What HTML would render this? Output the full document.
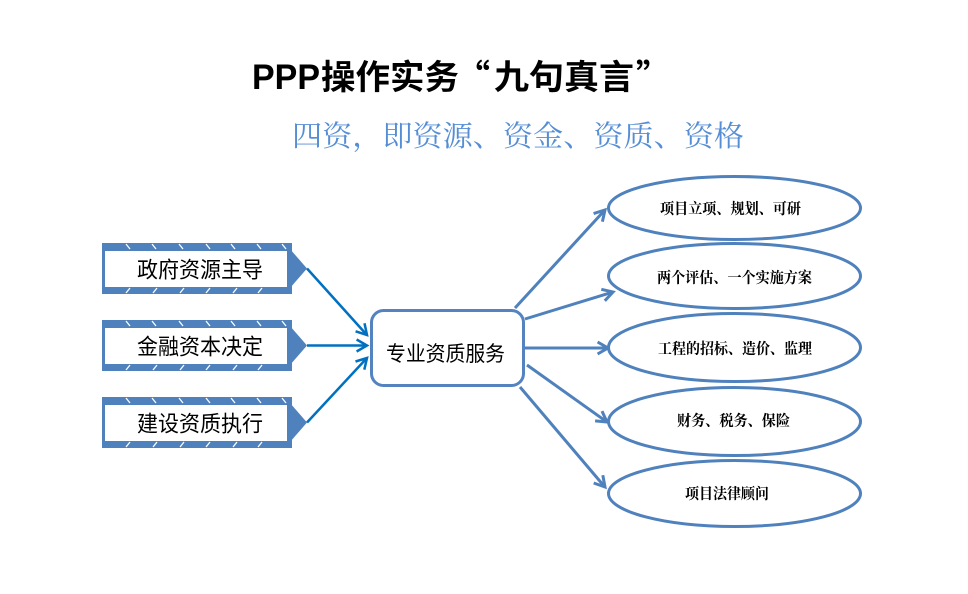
<!DOCTYPE html>
<html>
<head>
<meta charset="utf-8">
<style>
  html, body { margin: 0; padding: 0; background: #ffffff; }
  body { width: 968px; height: 594px; overflow: hidden; }
  svg { display: block; }
</style>
</head>
<body>
<svg width="968" height="594" viewBox="0 0 968 594" xmlns="http://www.w3.org/2000/svg">
  <rect x="0" y="0" width="968" height="594" fill="#ffffff"/>

  <!-- Title -->
  <text x="252" y="89" font-family="'Liberation Sans', sans-serif" font-weight="bold" font-size="35" fill="#000" textLength="68" lengthAdjust="spacingAndGlyphs">PPP</text>
  <text x="321" y="89" font-family="'Noto Sans CJK SC', 'WenQuanYi Zen Hei', sans-serif" font-weight="bold" font-size="34" fill="#000" textLength="138" lengthAdjust="spacingAndGlyphs">操作实务</text>
  <text x="490" y="89" text-anchor="end" font-family="'Noto Sans CJK SC', 'WenQuanYi Zen Hei', sans-serif" font-weight="bold" font-size="34" fill="#000">“</text>
  <text x="494" y="89" font-family="'Noto Sans CJK SC', 'WenQuanYi Zen Hei', sans-serif" font-weight="bold" font-size="34" fill="#000" textLength="140" lengthAdjust="spacingAndGlyphs">九句真言</text>
  <text x="636" y="89" font-family="'Noto Sans CJK SC', 'WenQuanYi Zen Hei', sans-serif" font-weight="bold" font-size="34" fill="#000">”</text>

  <!-- Subtitle -->
  <text x="292" y="146" font-family="'Noto Serif CJK SC', 'Noto Sans CJK SC', serif" font-size="29" fill="#558ed5" textLength="452" lengthAdjust="spacingAndGlyphs">四资，即资源、资金、资质、资格</text>

  <!-- Left boxes -->
  <g id="box1">
    <rect x="102" y="243" width="190" height="51" fill="#4f81bd"/>
    <polygon points="290,249 307,268.5 290,288" fill="#4f81bd"/>
    <rect x="105" y="251" width="182" height="36" fill="#ffffff"/>
    <g stroke="#ffffff" stroke-width="1.3">
      <line x1="126" y1="244" x2="130" y2="249"/><line x1="152" y1="244" x2="156" y2="249"/>
      <line x1="179" y1="244" x2="183" y2="249"/><line x1="206" y1="244" x2="210" y2="249"/>
      <line x1="231" y1="244" x2="235" y2="249"/><line x1="257" y1="244" x2="261" y2="249"/>
      <line x1="282" y1="244" x2="286" y2="249"/>
      <line x1="126" y1="293" x2="130" y2="288"/><line x1="153" y1="293" x2="157" y2="288"/>
      <line x1="180" y1="293" x2="184" y2="288"/><line x1="206" y1="293" x2="210" y2="288"/>
      <line x1="233" y1="293" x2="237" y2="288"/><line x1="258" y1="293" x2="262" y2="288"/>
    </g>
    <text x="137" y="277.5" font-family="'Noto Sans CJK SC', 'WenQuanYi Zen Hei', sans-serif" font-size="22" fill="#000" textLength="126" lengthAdjust="spacingAndGlyphs">政府资源主导</text>
  </g>

  <g id="box2">
    <rect x="102" y="320" width="190" height="51" fill="#4f81bd"/>
    <polygon points="290,326 307,345.5 290,365" fill="#4f81bd"/>
    <rect x="105" y="328" width="182" height="36" fill="#ffffff"/>
    <g stroke="#ffffff" stroke-width="1.3">
      <line x1="126" y1="321" x2="130" y2="326"/><line x1="152" y1="321" x2="156" y2="326"/>
      <line x1="179" y1="321" x2="183" y2="326"/><line x1="206" y1="321" x2="210" y2="326"/>
      <line x1="231" y1="321" x2="235" y2="326"/><line x1="257" y1="321" x2="261" y2="326"/>
      <line x1="282" y1="321" x2="286" y2="326"/>
      <line x1="126" y1="370" x2="130" y2="365"/><line x1="153" y1="370" x2="157" y2="365"/>
      <line x1="180" y1="370" x2="184" y2="365"/><line x1="206" y1="370" x2="210" y2="365"/>
      <line x1="233" y1="370" x2="237" y2="365"/><line x1="258" y1="370" x2="262" y2="365"/>
    </g>
    <text x="137" y="354.5" font-family="'Noto Sans CJK SC', 'WenQuanYi Zen Hei', sans-serif" font-size="22" fill="#000" textLength="126" lengthAdjust="spacingAndGlyphs">金融资本决定</text>
  </g>

  <g id="box3">
    <rect x="102" y="397" width="190" height="51" fill="#4f81bd"/>
    <polygon points="290,403 307,422.5 290,442" fill="#4f81bd"/>
    <rect x="105" y="405" width="182" height="36" fill="#ffffff"/>
    <g stroke="#ffffff" stroke-width="1.3">
      <line x1="126" y1="398" x2="130" y2="403"/><line x1="152" y1="398" x2="156" y2="403"/>
      <line x1="179" y1="398" x2="183" y2="403"/><line x1="206" y1="398" x2="210" y2="403"/>
      <line x1="231" y1="398" x2="235" y2="403"/><line x1="257" y1="398" x2="261" y2="403"/>
      <line x1="282" y1="398" x2="286" y2="403"/>
      <line x1="126" y1="447" x2="130" y2="442"/><line x1="153" y1="447" x2="157" y2="442"/>
      <line x1="180" y1="447" x2="184" y2="442"/><line x1="206" y1="447" x2="210" y2="442"/>
      <line x1="233" y1="447" x2="237" y2="442"/><line x1="258" y1="447" x2="262" y2="442"/>
    </g>
    <text x="137" y="431.5" font-family="'Noto Sans CJK SC', 'WenQuanYi Zen Hei', sans-serif" font-size="22" fill="#000" textLength="126" lengthAdjust="spacingAndGlyphs">建设资质执行</text>
  </g>

  <!-- Left arrows -->
  <g stroke="#0070c0" stroke-width="2.5" fill="none" stroke-linejoin="miter">
    <line x1="307" y1="268.5" x2="366" y2="334"/>
    <polyline points="364.5,323.3 367,335 355.6,331.3"/>
    <line x1="307" y1="345.5" x2="366" y2="345.5"/>
    <polyline points="356.6,339.5 367,345.5 356.6,351.5"/>
    <line x1="307" y1="422.5" x2="366" y2="359"/>
    <polyline points="355.5,361.5 367,358 364.3,369.7"/>
  </g>

  <!-- Right arrows -->
  <g stroke="#4f81bd" stroke-width="3" fill="none" stroke-linejoin="miter">
    <line x1="515" y1="308" x2="604" y2="211"/>
    <polyline points="593.6,213.6 605,210 602.4,221.7"/>
    <line x1="525" y1="319" x2="612" y2="292.3"/>
    <polyline points="601.3,289.3 613,292 604.8,300.8"/>
    <line x1="525" y1="348" x2="607" y2="348"/>
    <polyline points="597.6,342 608,348 597.6,354"/>
    <line x1="527" y1="365" x2="606" y2="421.3"/>
    <polyline points="602,411.1 607,422 595.1,420.9"/>
    <line x1="520" y1="387" x2="604" y2="486"/>
    <polyline points="602.8,475.2 605,487 593.7,483"/>
  </g>

  <!-- Center box -->
  <rect x="371.5" y="310.5" width="152" height="75" rx="12" ry="12" fill="#ffffff" stroke="#5583bf" stroke-width="3"/>
  <text x="386" y="361" font-family="'Noto Sans CJK SC', 'WenQuanYi Zen Hei', sans-serif" font-size="21" fill="#000" textLength="119" lengthAdjust="spacingAndGlyphs">专业资质服务</text>

  <!-- Ellipses -->
  <g fill="#ffffff" stroke="#4f81bd" stroke-width="3">
    <ellipse cx="734.5" cy="208" rx="126" ry="31.5"/>
    <ellipse cx="734.5" cy="276" rx="126" ry="32.5"/>
    <ellipse cx="734.5" cy="347.5" rx="126" ry="34"/>
    <ellipse cx="734.5" cy="421.5" rx="126" ry="34"/>
    <ellipse cx="734.5" cy="493.5" rx="126" ry="33"/>
  </g>
  <g font-family="'Noto Serif CJK SC', 'Noto Sans CJK SC', serif" font-weight="bold" font-size="15" fill="#000">
    <text x="660" y="213.5" textLength="141" lengthAdjust="spacingAndGlyphs">项目立项、规划、可研</text>
    <text x="657" y="282.5" textLength="155" lengthAdjust="spacingAndGlyphs">两个评估、一个实施方案</text>
    <text x="658" y="353.5" textLength="154" lengthAdjust="spacingAndGlyphs">工程的招标、造价、监理</text>
    <text x="677" y="425.5" textLength="113" lengthAdjust="spacingAndGlyphs">财务、税务、保险</text>
    <text x="685" y="498.5" textLength="84" lengthAdjust="spacingAndGlyphs">项目法律顾问</text>
  </g>
</svg>
</body>
</html>
